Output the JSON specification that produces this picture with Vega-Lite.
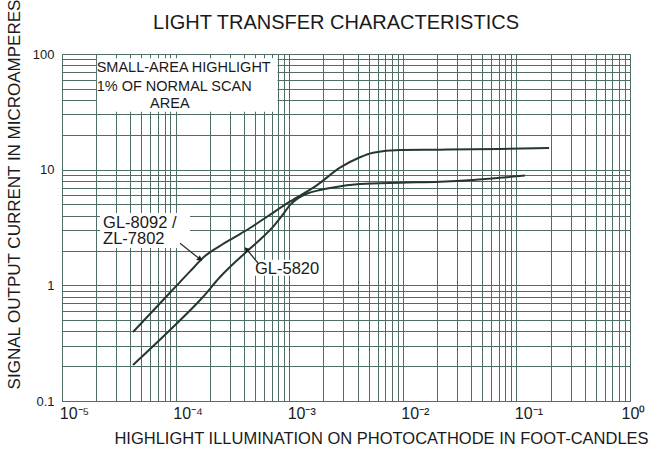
{
  "$schema": "https://vega.github.io/schema/vega-lite/v6.json",
  "width": 568,
  "height": 347,
  "autosize": {"type": "none"},
  "padding": {"left": 62, "top": 54, "right": 30, "bottom": 52},
  "background": "white",
  "config": {
    "font": "Liberation Sans",
    "view": {"stroke": "#4e6d64", "strokeWidth": 1}
  },
  "title": {
    "text": "LIGHT TRANSFER CHARACTERISTICS",
    "frame": "group",
    "anchor": "middle",
    "dx": -10,
    "offset": 0,
    "dy": 51,
    "baseline": "alphabetic",
    "fontSize": 20,
    "fontWeight": "normal",
    "color": "#1a1a1a"
  },
  "encoding": {
    "x": {
      "field": "x",
      "type": "quantitative",
      "scale": {"type": "log", "domain": [0.00001, 1], "nice": false},
      "axis": {
        "values": [0.00001,0.00002,0.00003,0.00004,0.00005,0.00006,0.00007,0.00008,0.00009,
                   0.0001,0.0002,0.0003,0.0004,0.0005,0.0006,0.0007,0.0008,0.0009,
                   0.001,0.002,0.003,0.004,0.005,0.006,0.007,0.008,0.009,
                   0.01,0.02,0.03,0.04,0.05,0.06,0.07,0.08,0.09,
                   0.1,0.2,0.3,0.4,0.5,0.6,0.7,0.8,0.9,1],
        "labelExpr": "abs(log(datum.value)/LN10 - round(log(datum.value)/LN10)) > 0.001 ? '' : '10' + ['⁻⁵','⁻⁴','⁻³','⁻²','⁻¹','⁰'][round(log(datum.value)/LN10)+5]",
        "grid": true,
        "gridColor": "#4e6d64",
        "gridWidth": 1,
        "gridOpacity": 1,
        "ticks": false,
        "domain": false,
        "labelFontSize": 16,
        "labelColor": "#1a1a1a",
        "labelPadding": 4,
        "labelOffset": {"condition": {"test": "datum.value >= 0.5", "value": 3}, "value": 12},
        "labelFlush": false,
        "labelOverlap": false,
        "labelBound": false,
        "title": "HIGHLIGHT ILLUMINATION ON PHOTOCATHODE IN FOOT-CANDLES",
        "titleFontSize": 16.5,
        "titleFontWeight": "normal",
        "titleColor": "#1a1a1a",
        "titleX": 319,
        "titleY": 37,
        "titleAlign": "center",
        "titleBaseline": "middle"
      }
    },
    "y": {
      "field": "y",
      "type": "quantitative",
      "scale": {"type": "log", "domain": [0.1, 100], "nice": false},
      "axis": {
        "values": [0.1,0.2,0.3,0.4,0.5,0.6,0.7,0.8,0.9,
                   1,2,3,4,5,6,7,8,9,
                   10,20,30,40,50,60,70,80,90,100],
        "labelExpr": "abs(log(datum.value)/LN10 - round(log(datum.value)/LN10)) > 0.001 ? '' : format(datum.value, '~g')",
        "grid": true,
        "gridColor": "#4e6d64",
        "gridWidth": 1,
        "gridOpacity": 1,
        "ticks": false,
        "domain": false,
        "labelFontSize": 13,
        "labelColor": "#1a1a1a",
        "labelPadding": 8,
        "labelOverlap": false,
        "labelBound": false,
        "title": "SIGNAL OUTPUT CURRENT IN MICROAMPERES",
        "titleFontSize": 17,
        "titleFontWeight": "normal",
        "titleColor": "#1a1a1a",
        "titleX": -48,
        "titleY": 140,
        "titleAngle": -90,
        "titleAlign": "center",
        "titleBaseline": "middle"
      }
    }
  },
  "layer": [
    {
      "data": {"values": [
        {"box": "note", "x": 0.0000203, "x2": 0.00079, "y": 92, "y2": 31.6},
        {"box": "GL-8092", "x": 0.0000216, "x2": 0.000134, "y": 4.22, "y2": 2.1},
        {"box": "GL-5820", "x": 0.00048, "x2": 0.00195, "y": 1.66, "y2": 1.21}
      ]},
      "mark": {"type": "rect", "fill": "white", "stroke": null},
      "encoding": {
        "x2": {"field": "x2"},
        "y2": {"field": "y2"}
      }
    },
    {
      "data": {"values": [
        {"tube": "GL-8092 / ZL-7802", "x": 0.0000422, "y": 0.395},
        {"tube": "GL-8092 / ZL-7802", "x": 0.0000948, "y": 0.92},
        {"tube": "GL-8092 / ZL-7802", "x": 0.000134, "y": 1.32},
        {"tube": "GL-8092 / ZL-7802", "x": 0.0001815, "y": 1.79},
        {"tube": "GL-8092 / ZL-7802", "x": 0.000246, "y": 2.19},
        {"tube": "GL-8092 / ZL-7802", "x": 0.00032, "y": 2.56},
        {"tube": "GL-8092 / ZL-7802", "x": 0.000452, "y": 3.13},
        {"tube": "GL-8092 / ZL-7802", "x": 0.000638, "y": 3.92},
        {"tube": "GL-8092 / ZL-7802", "x": 0.00102, "y": 5.31},
        {"tube": "GL-8092 / ZL-7802", "x": 0.00176, "y": 7.36},
        {"tube": "GL-8092 / ZL-7802", "x": 0.0028, "y": 10.4},
        {"tube": "GL-8092 / ZL-7802", "x": 0.0042, "y": 12.8},
        {"tube": "GL-8092 / ZL-7802", "x": 0.00547, "y": 14.0},
        {"tube": "GL-8092 / ZL-7802", "x": 0.00944, "y": 14.8},
        {"tube": "GL-8092 / ZL-7802", "x": 0.0212, "y": 14.9},
        {"tube": "GL-8092 / ZL-7802", "x": 0.0718, "y": 15.1},
        {"tube": "GL-8092 / ZL-7802", "x": 0.194, "y": 15.4},
        {"tube": "GL-5820", "x": 0.0000422, "y": 0.205},
        {"tube": "GL-5820", "x": 0.0000893, "y": 0.411},
        {"tube": "GL-5820", "x": 0.000174, "y": 0.793},
        {"tube": "GL-5820", "x": 0.000246, "y": 1.18},
        {"tube": "GL-5820", "x": 0.000452, "y": 2.08},
        {"tube": "GL-5820", "x": 0.000577, "y": 2.58},
        {"tube": "GL-5820", "x": 0.00072, "y": 3.2},
        {"tube": "GL-5820", "x": 0.000865, "y": 4.0},
        {"tube": "GL-5820", "x": 0.00102, "y": 4.96},
        {"tube": "GL-5820", "x": 0.00119, "y": 5.64},
        {"tube": "GL-5820", "x": 0.00144, "y": 6.22},
        {"tube": "GL-5820", "x": 0.00187, "y": 6.67},
        {"tube": "GL-5820", "x": 0.00244, "y": 7.02},
        {"tube": "GL-5820", "x": 0.0042, "y": 7.5},
        {"tube": "GL-5820", "x": 0.00944, "y": 7.72},
        {"tube": "GL-5820", "x": 0.0212, "y": 7.87},
        {"tube": "GL-5820", "x": 0.0415, "y": 8.15},
        {"tube": "GL-5820", "x": 0.0718, "y": 8.5},
        {"tube": "GL-5820", "x": 0.119, "y": 8.9}
      ]},
      "mark": {"type": "line", "color": "#24382f", "strokeWidth": 2, "interpolate": "monotone"},
      "encoding": {
        "detail": {"field": "tube", "type": "nominal"}
      }
    },
    {
      "data": {"values": [
        {"tube": "GL-8092 / ZL-7802", "x": 0.0001094, "y": 2.31, "x2": 0.000157, "y2": 1.74},
        {"tube": "GL-5820", "x": 0.000531, "y": 1.56, "x2": 0.000434, "y2": 1.98}
      ]},
      "mark": {"type": "rule", "color": "#24382f", "strokeWidth": 1.3},
      "encoding": {
        "x2": {"field": "x2"},
        "y2": {"field": "y2"}
      }
    },
    {
      "data": {"values": [{"tube": "GL-8092 / ZL-7802", "x": 0.000162, "y": 1.70}]},
      "mark": {"type": "point", "shape": "triangle", "angle": 128, "filled": true, "size": 35, "color": "#1a1a1a", "opacity": 1}
    },
    {
      "data": {"values": [{"tube": "GL-5820", "x": 0.000425, "y": 2.03}]},
      "mark": {"type": "point", "shape": "triangle", "angle": 320, "filled": true, "size": 35, "color": "#1a1a1a", "opacity": 1}
    },
    {
      "data": {"values": [
        {"note": "SMALL-AREA HIGHLIGHT", "x": 0.0000202, "y": 75.7},
        {"note": "1% OF NORMAL SCAN", "x": 0.0000202, "y": 52.1},
        {"note": "AREA", "x": 0.0000596, "y": 37.0}
      ]},
      "mark": {"type": "text", "align": "left", "baseline": "middle", "fontSize": 14.5, "color": "#1a1a1a"},
      "encoding": {"text": {"field": "note"}}
    },
    {
      "data": {"values": [
        {"note": "GL-8092 /", "x": 0.000023, "y": 3.49},
        {"note": "ZL-7802", "x": 0.000023, "y": 2.52},
        {"note": "GL-5820", "x": 0.0005, "y": 1.39}
      ]},
      "mark": {"type": "text", "align": "left", "baseline": "middle", "fontSize": 16.5, "color": "#1a1a1a"},
      "encoding": {"text": {"field": "note"}}
    }
  ]
}
